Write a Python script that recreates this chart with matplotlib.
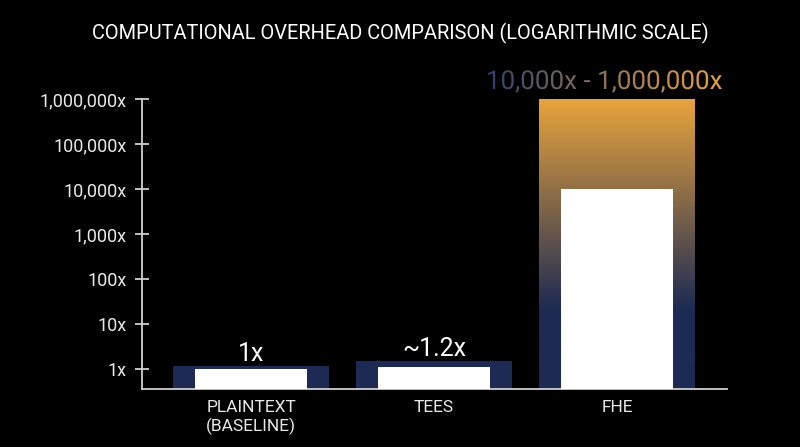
import numpy as np
import matplotlib
matplotlib.use("Agg")
from matplotlib import pyplot as plt
from matplotlib.textpath import TextPath
from matplotlib.patches import PathPatch
from matplotlib.font_manager import FontProperties
from matplotlib.colors import to_rgb
from matplotlib.ticker import FixedLocator, FuncFormatter

# dane
categories = ["PLAINTEXT\n(BASELINE)", "TEES", "FHE"]
low_values = [1, 1.1, 10000]
high_values = [1.15, 1.5, 1000000]
bar_labels = ["1x", "~1.2x", "10,000x - 1,000,000x"]
tick_values = [1, 10, 100, 1000, 10000, 100000, 1000000]

NAVY = "#1c2a54"
ORANGE = "#e9a43c"
FONT = "Roboto"

plt.rcParams["font.family"] = [FONT, "DejaVu Sans"]

fig = plt.figure(figsize=(8, 4.47), dpi=100, facecolor="black")
ax = fig.add_axes([142 / 800, 58 / 447, (727 - 142) / 800, (389 - 98) / 447])
ax.set_facecolor("black")
ax.set_yscale("log")
ymin, ymax = 0.36, 1.05e6
ax.set_ylim(ymin, ymax)
ax.set_xlim(-0.596, 2.6)

x = np.arange(len(categories))
outer = ax.bar(x, high_values, width=0.85, color=NAVY, zorder=2)
inner = ax.bar(x, low_values, width=0.61, color="white", zorder=3)

# gradient na slupku FHE (od granatu do pomaranczu)
nav, ora = np.array(to_rgb(NAVY)), np.array(to_rgb(ORANGE))
frac = np.linspace(0, 1, 400)
logv = np.log10(ymin) + frac * (np.log10(ymax) - np.log10(ymin))
t = np.clip((logv - 1.3) / (6 - 1.3), 0, 1)
grad = (nav[None, :] * (1 - t[:, None]) + ora[None, :] * t[:, None])[:, None, :]
im = ax.imshow(grad, extent=(0, 1, 0, 1), transform=ax.transAxes, origin="lower",
               aspect="auto", zorder=2.5, interpolation="bilinear")
im.set_clip_path(outer[2])

# osie
for s in ["top", "right"]:
    ax.spines[s].set_visible(False)
ax.spines["left"].set_color("#d0d0d0")
ax.spines["bottom"].set_color("#d0d0d0")
ax.spines["left"].set_linewidth(1.3)
ax.spines["bottom"].set_linewidth(1.3)
ax.spines["left"].set_bounds(ymin, 1e6)
ax.yaxis.set_major_locator(FixedLocator(tick_values))
ax.yaxis.set_minor_locator(FixedLocator([]))
ax.yaxis.set_major_formatter(FuncFormatter(lambda v, p: f"{int(v):,}x"))
ax.tick_params(axis="y", direction="inout", length=10, width=1.3, color="#d0d0d0",
               labelcolor="#e8e8e8", labelsize=13, pad=6)
ax.set_xticks(x)
ax.set_xticklabels(categories)
ax.tick_params(axis="x", length=0, labelcolor="#e8e8e8", labelsize=12.5, pad=8)

for i in range(2):
    ax.annotate(bar_labels[i], (x[i], high_values[i]), xytext=(0, 4), textcoords="offset points",
                ha="center", va="baseline", color="white", fontsize=18)

fig.text(0.5, 1 - 33 / 447, "COMPUTATIONAL OVERHEAD COMPARISON (LOGARITHMIC SCALE)",
         ha="center", va="center", color="white", fontsize=14.4)

# napis z gradientem nad FHE
over = fig.add_axes([0, 0, 1, 1], zorder=10)
over.axis("off")
over.patch.set_alpha(0)
tp = TextPath((0, 0), bar_labels[2], size=26, prop=FontProperties(family=FONT))
ext = tp.get_extents()
cx, base = 605, 447 - 89
tp = tp.transformed(matplotlib.transforms.Affine2D().translate(cx - (ext.x0 + ext.x1) / 2, base))
ext = tp.get_extents()
tcol = np.linspace(0, 1, 300) ** 0.9
left_c = np.array(to_rgb("#2f3d70"))
tgrad = (left_c[None, :] * (1 - tcol[:, None]) + ora[None, :] * tcol[:, None])[None, :, :]
timg = over.imshow(tgrad, extent=(ext.x0, ext.x1, ext.y0, ext.y1), aspect="auto",
                   origin="lower", interpolation="bilinear")
patch = PathPatch(tp, facecolor="none", edgecolor="none", transform=over.transData)
over.add_patch(patch)
timg.set_clip_path(patch)
over.set_xlim(0, 800)
over.set_ylim(0, 447)

fig.savefig("out.png", dpi=100, facecolor="black")
